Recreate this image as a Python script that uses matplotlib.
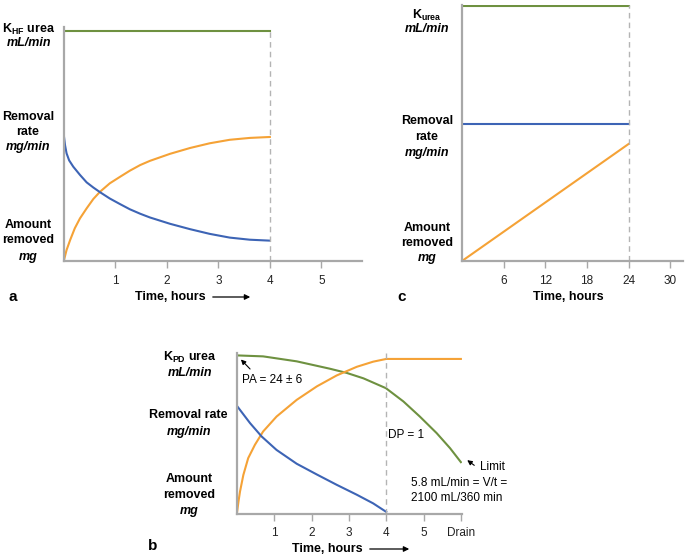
import matplotlib
matplotlib.use("Agg")
import matplotlib.pyplot as plt

plt.rcParams["font.family"] = ["Liberation Sans", "DejaVu Sans"]
plt.rcParams["mathtext.fontset"] = "custom"
plt.rcParams["mathtext.rm"] = "Liberation Sans:bold"
plt.rcParams["mathtext.it"] = "Liberation Sans:bold:italic"
plt.rcParams["mathtext.bf"] = "Liberation Sans:bold"

# ---- panel a: hemofiltration (time in hours, relative height 0..100)
a_orange_t = [0, 0.05, 0.12, 0.21, 0.31, 0.44, 0.57, 0.7, 0.89, 1.09, 1.28, 1.48,
              1.67, 2.06, 2.45, 2.83, 3.22, 3.61, 4.0]
a_orange_y = [0.4, 4.7, 9.0, 14.0, 18.2, 22.5, 26.5, 29.6, 33.2, 36.0, 38.6, 41.0,
              42.8, 45.8, 48.3, 50.3, 51.8, 52.6, 53.0]
a_blue_t = [0, 0.02, 0.05, 0.1, 0.18, 0.31, 0.44, 0.57, 0.7, 0.89, 1.09, 1.28, 1.48,
            1.67, 2.06, 2.45, 2.83, 3.22, 3.61, 4.0]
a_blue_y = [53.1, 49.5, 46.0, 43.0, 40.3, 36.8, 33.6, 31.4, 29.4, 26.7, 24.3, 22.1, 20.2,
            18.6, 15.9, 13.6, 11.6, 10.0, 9.1, 8.7]
a_green_t = [0, 4]
a_green_y = [98.3, 98.3]
a_ticks = [1, 2, 3, 4, 5]

# ---- panel b: peritoneal dialysis
b_green_t = [0, 0.7, 1.6, 2.49, 2.94, 3.39, 3.99, 4.46, 4.9, 5.35, 5.71, 6.0]
b_green_y = [98.5, 97.9, 94.8, 90.2, 87.6, 84.2, 78.1, 69.8, 60.4, 50.1, 40.7, 32.0]
b_orange_t = [0, 0.04, 0.08, 0.17, 0.3, 0.48, 0.7, 1.06, 1.6, 2.14, 2.67, 3.21, 3.65, 4.0, 6.0]
b_orange_y = [0.5, 7.5, 13.6, 24.0, 34.5, 42.8, 51.1, 60.4, 70.8, 79.2, 86.0, 91.4, 94.6, 96.3, 96.3]
b_blue_t = [0, 0.35, 0.66, 1.06, 1.6, 2.14, 2.67, 3.21, 3.65, 4.0]
b_blue_y = [67.0, 56.3, 48.0, 39.6, 31.0, 24.3, 17.9, 11.7, 6.3, 1.0]
b_ticks = [1, 2, 3, 4, 5, 6]
b_ticklabels = ["1", "2", "3", "4", "5", "Drain"]

# ---- panel c: continuous therapy
c_green_t = [0, 24]
c_green_y = [99.6, 99.6]
c_blue_t = [0, 24]
c_blue_y = [53.5, 53.5]
c_orange_t = [0, 24]
c_orange_y = [0, 45.7]
c_ticks = [6, 12, 18, 24, 30]

GREEN = "#6e9140"
ORANGE = "#f5a236"
BLUE = "#3d64b5"
SPINE = "#a8a8a8"
DASH = "#b4b4b4"

W, H = 685, 557
fig = plt.figure(figsize=(W / 100, H / 100), dpi=100)


def rect(l, t, r, b):
    return [l / W, 1 - b / H, (r - l) / W, (b - t) / H]


def fx(x):
    return x / W


def fy(y):
    return 1 - y / H


def style(ax, xlim, ticks, labels=None):
    ax.set_xlim(*xlim)
    ax.set_ylim(0, 100)
    for s in ["top", "right"]:
        ax.spines[s].set_visible(False)
    for s in ["left", "bottom"]:
        ax.spines[s].set_color(SPINE)
        ax.spines[s].set_linewidth(1.6)
    ax.set_xticks(ticks)
    ax.set_xticklabels(labels if labels else [str(t) for t in ticks])
    ax.set_yticks([])
    ax.tick_params(axis="x", colors=SPINE, length=5, width=1, labelsize=8.5,
                   labelcolor="#222222", pad=5)


def label(x, y, s, italic=False, size=9, ha="center"):
    fig.text(fx(x), fy(y), s, ha=ha, va="center", fontsize=size,
             fontweight="bold", fontstyle="italic" if italic else "normal")


def arrow(x0, y0, x1, y1, scale=8, width=0.9):
    fig.add_artist(matplotlib.patches.FancyArrowPatch(
        (fx(x0), fy(y0)), (fx(x1), fy(y1)), transform=fig.transFigure,
        arrowstyle="-|>", mutation_scale=scale, lw=width, color="black"))


def time_label(x, y, arrow_from=None, arrow_to=None):
    fig.text(fx(x), fy(y), "Time, hours", ha="center", va="center",
             fontsize=9, fontweight="bold")
    if arrow_from is not None:
        arrow(arrow_from, y, arrow_to, y)


lw = 1.5

# panel a
ax_a = fig.add_axes(rect(64, 27, 362, 261))
ax_a.plot(a_green_t, a_green_y, color=GREEN, lw=lw)
ax_a.plot(a_orange_t, a_orange_y, color=ORANGE, lw=lw)
ax_a.plot(a_blue_t, a_blue_y, color=BLUE, lw=lw)
ax_a.plot([4, 4], [0, a_green_y[-1]], color=DASH, lw=1, ls=(0, (4, 3)))
style(ax_a, (0, 5.79), a_ticks)

label(29, 29, r"K$_{\mathrm{HF}}$ urea")
label(29, 43, "mL/min", italic=True)
label(28, 117, "Removal")
label(28, 132, "rate")
label(28, 147, "mg/min", italic=True)
label(28, 225, "Amount")
label(28, 240, "removed")
label(28, 257, "mg", italic=True)
label(13, 297, "a", size=11)
time_label(170, 297, 210, 253)

# panel c
ax_c = fig.add_axes(rect(462, 5, 683, 261))
ax_c.plot(c_green_t, c_green_y, color=GREEN, lw=lw)
ax_c.plot(c_blue_t, c_blue_y, color=BLUE, lw=lw)
ax_c.plot(c_orange_t, c_orange_y, color=ORANGE, lw=lw)
ax_c.plot([24, 24], [0, 100], color=DASH, lw=1, ls=(0, (4, 3)))
style(ax_c, (0, 31.85), c_ticks)

label(427, 15, r"K$_{\mathrm{urea}}$")
label(427, 29, "mL/min", italic=True)
label(427, 121, "Removal")
label(427, 137, "rate")
label(427, 153, "mg/min", italic=True)
label(427, 228, "Amount")
label(427, 243, "removed")
label(427, 258, "mg", italic=True)
label(402, 297, "c", size=11)
time_label(568, 297)

# panel b
ax_b = fig.add_axes(rect(237, 353, 462, 513.5))
ax_b.plot(b_green_t, b_green_y, color=GREEN, lw=lw)
ax_b.plot(b_orange_t, b_orange_y, color=ORANGE, lw=lw)
ax_b.plot(b_blue_t, b_blue_y, color=BLUE, lw=lw)
ax_b.plot([4, 4], [0, 100], color=DASH, lw=1, ls=(0, (4, 3)))
style(ax_b, (0, 6.03), b_ticks, b_ticklabels)

label(190, 357, r"K$_{\mathrm{PD}}$ urea")
label(190, 373, "mL/min", italic=True)
label(188, 415, "Removal rate")
label(189, 432, "mg/min", italic=True)
label(189, 479, "Amount")
label(189, 495, "removed")
label(189, 511, "mg", italic=True)
label(153, 546, "b", size=11)
time_label(327, 549, 367, 412)

fig.text(fx(242), fy(380), "PA = 24 \u00b1 6", ha="left", va="center", fontsize=8.5)
arrow(252, 371, 239, 357.5, scale=7, width=0.8)
fig.text(fx(388), fy(435), "DP = 1", ha="left", va="center", fontsize=8.5)
fig.text(fx(480), fy(467), "Limit", ha="left", va="center", fontsize=8.5)
arrow(476.5, 467, 465, 458.5, scale=7, width=0.8)
fig.text(fx(411), fy(483), "5.8 mL/min = V/t =", ha="left", va="center", fontsize=8.5)
fig.text(fx(411), fy(498), "2100 mL/360 min", ha="left", va="center", fontsize=8.5)

fig.savefig("out.png", dpi=100)
